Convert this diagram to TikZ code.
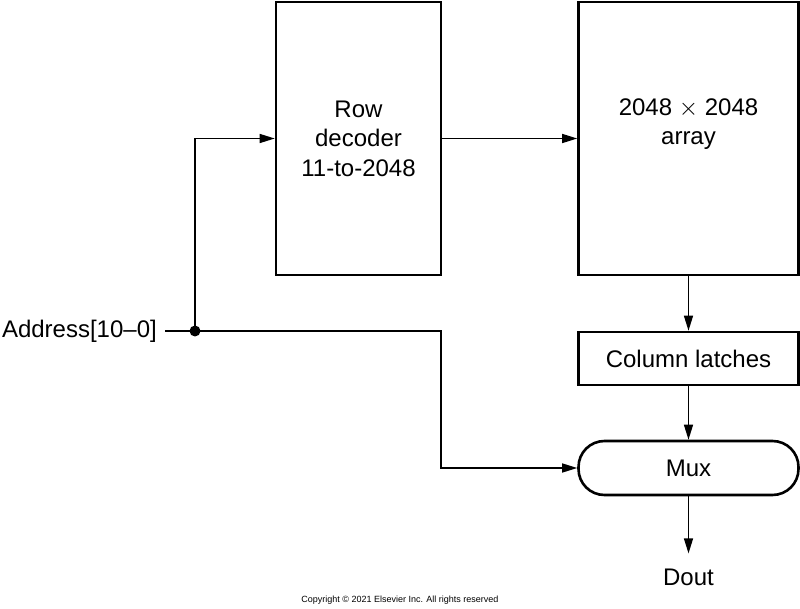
\documentclass[tikz,border=0pt]{standalone}
\usepackage{fontspec}
\setmainfont{Liberation Sans}
\usetikzlibrary{arrows.meta}
\begin{document}
\begin{tikzpicture}[x=1pt,y=-1pt,
  box/.style={draw, line width=2.6pt, rectangle, inner sep=0pt},
  lbl/.style={font=\fontsize{24}{29.5}\selectfont, align=center, inner sep=0pt},
  conn/.style={line width=1.4pt, -{Triangle[length=15pt,width=9pt]}},
  wire/.style={line width=1.4pt}]
\useasboundingbox (0,0) rectangle (800,609);
\node[box, minimum width=165pt, minimum height=273pt, lbl] (row) at (358.5,138.5) {Row\\decoder\\11-to-2048};
\node[box, minimum width=220pt, minimum height=273pt] (array) at (688.5,138.5) {};
\node[lbl] (arraytxt) at (688.5,124) {2048 $\times$ 2048\\array};
\node[box, minimum width=220pt, minimum height=53pt, lbl] (latches) at (688.5,358.5) {Column latches};
\node[box, minimum width=220pt, minimum height=54pt, rounded corners=26pt, lbl] (mux) at (688.5,468) {Mux};
\node[lbl, anchor=east] (addr) at (157,331) {Address[10–0]};
\node[lbl, inner sep=3pt] (dout) at (688.5,577) {Dout};
\node[font=\fontsize{9}{10}\selectfont, inner sep=0pt] (copy) at (400,600) {Copyright © 2021 Elsevier Inc. All rights reserved};
\coordinate (dot) at (195,331);
\coordinate (b1) at (441,331);
\coordinate (b2) at (441,468);
\fill (dot) circle (5.5pt);
\draw[wire, shorten <=8pt] (addr.east) -- (dot);
\draw[conn] (dot) |- (row.west);
\draw[conn] (dot) -- (b1) -- (b2) -- (mux.west);
\draw[conn] (row.east) -- (array.west);
\draw[conn] (array.south) -- (latches.north);
\draw[conn] (latches.south) -- (mux.north);
\draw[conn, shorten >=12pt] (mux.south) -- (dout.north);
\end{tikzpicture}
\end{document}
